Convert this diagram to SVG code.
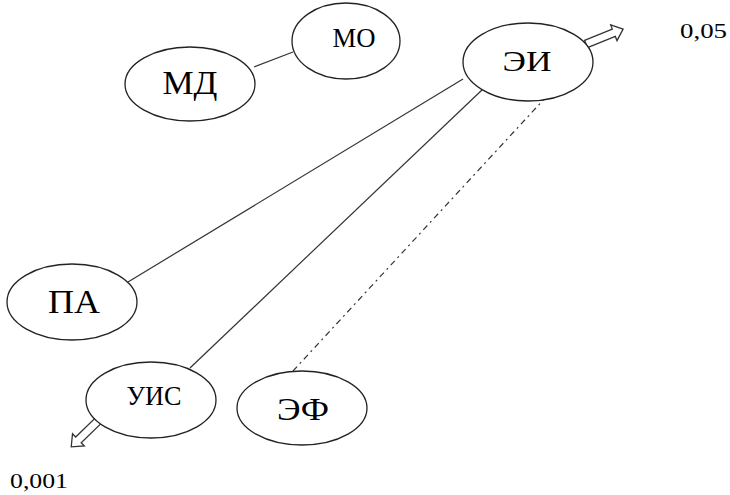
<svg xmlns="http://www.w3.org/2000/svg" width="730" height="495" viewBox="0 0 730 495">
<style>
.n ellipse{fill:#fff;stroke:#222;stroke-width:1.3}
.n text{font-family:"Liberation Serif","Times New Roman",serif;fill:#000;text-anchor:middle}
.c line{stroke:#333;stroke-width:1.2}
.arr{fill:#fff;stroke:#333;stroke-width:1.3;stroke-linejoin:miter}
.lbl{font-family:"Liberation Serif","Times New Roman",serif;font-size:22px;fill:#000}
</style>
<defs>
<polygon id="blk" points="0,-4 30,-4 30,-8.5 40,0 30,8.5 30,4 0,4"/>
</defs>
<g class="c">
<line x1="254" y1="67" x2="293" y2="52"/>
<line x1="128" y1="282" x2="463" y2="79"/>
<line x1="190" y1="368" x2="483" y2="89"/>
<line x1="293" y1="371" x2="546" y2="97" stroke-width="1.6" stroke-dasharray="6 4 2 4"/>
<use href="#blk" class="arr" transform="translate(586,44) rotate(-22)"/>
<use href="#blk" class="arr" transform="translate(100,419) rotate(136)"/>
</g>
<g id="md" class="n"><ellipse cx="190" cy="84" rx="65" ry="37"/><text x="190" y="94" font-size="33" textLength="55" lengthAdjust="spacingAndGlyphs">МД</text></g>
<g id="mo" class="n"><ellipse cx="346" cy="41" rx="54" ry="38"/><text x="354" y="47" font-size="28" textLength="43" lengthAdjust="spacingAndGlyphs">МО</text></g>
<g id="ei" class="n"><ellipse cx="528" cy="62" rx="65" ry="39"/><text x="527" y="71" font-size="29" textLength="49" lengthAdjust="spacingAndGlyphs">ЭИ</text></g>
<g id="pa" class="n"><ellipse cx="72" cy="302" rx="65" ry="38"/><text x="74" y="313" font-size="33" textLength="52" lengthAdjust="spacingAndGlyphs">ПА</text></g>
<g id="uis" class="n"><ellipse cx="151" cy="400" rx="65" ry="38"/><text x="154" y="405" font-size="28" textLength="55" lengthAdjust="spacingAndGlyphs">УИС</text></g>
<g id="ef" class="n"><ellipse cx="302" cy="408" rx="65" ry="37"/><text x="303" y="420" font-size="31" textLength="52" lengthAdjust="spacingAndGlyphs">ЭФ</text></g>
<text class="lbl" x="680" y="38" textLength="47" lengthAdjust="spacingAndGlyphs">0,05</text>
<text class="lbl" x="10" y="488" textLength="58" lengthAdjust="spacingAndGlyphs">0,001</text>
</svg>
